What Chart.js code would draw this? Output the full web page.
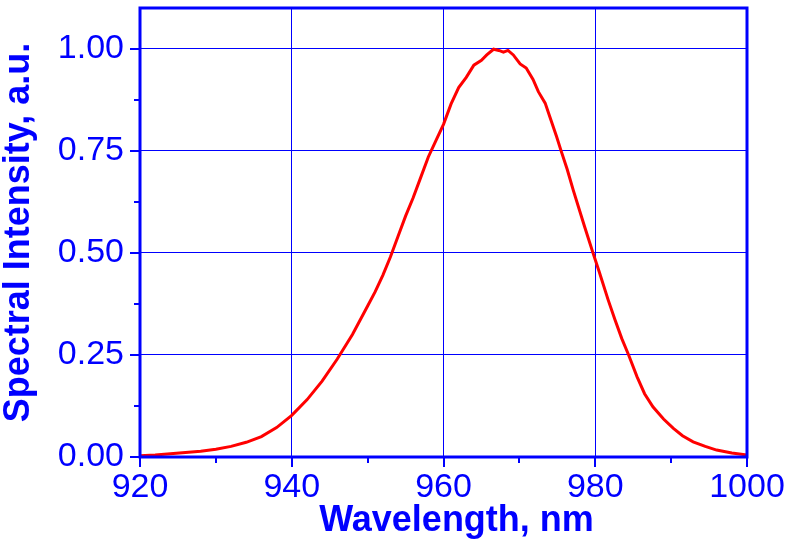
<!DOCTYPE html>
<html>
<head>
<meta charset="utf-8">
<script src="https://cdn.jsdelivr.net/npm/chart.js@4.4.1/dist/chart.umd.min.js"></script>
<style>
  html, body { margin: 0; padding: 0; background: #fff; }
  #wrap { width: 792px; height: 547px; }
</style>
</head>
<body>
<div id="wrap"><canvas id="spectrum"></canvas></div>
<script>
// values
const wavelength = [
  920, 922, 924, 926, 928, 930, 932, 934, 936, 938,
  940, 942, 944, 946, 948, 950, 951, 952, 953, 954,
  955, 956, 957, 958, 959, 960, 961, 962, 963, 964,
  965, 965.7, 966.6, 967.3, 967.9, 968.5, 969.2, 970.1, 970.9, 971.8,
  972.5, 973.4, 974.0, 974.9, 975.5, 976.3, 977.1, 978.6, 979.7, 980.5,
  981.7, 982.6, 983.5, 984.4, 985.5, 986.5, 987.6, 989, 990.3, 991.5,
  992.9, 994.5, 996, 998, 1000
]
const intensity = [
  0.003, 0.005, 0.008, 0.011, 0.014, 0.019, 0.026, 0.036, 0.050, 0.072,
  0.102, 0.140, 0.186, 0.240, 0.300, 0.370, 0.405, 0.445, 0.490, 0.540,
  0.590, 0.635, 0.685, 0.735, 0.775, 0.815, 0.865, 0.905, 0.930, 0.960,
  0.972, 0.985, 0.999, 0.996, 0.992, 0.996, 0.985, 0.963, 0.953, 0.925,
  0.895, 0.867, 0.834, 0.785, 0.750, 0.705, 0.654, 0.564, 0.500, 0.455,
  0.385, 0.336, 0.290, 0.250, 0.197, 0.155, 0.123, 0.093, 0.070, 0.052,
  0.037, 0.026, 0.017, 0.010, 0.005
]
const xTicks = [920, 940, 960, 980, 1000]
const xMinorTicks = [930, 950, 970, 990]
const yTicks = [0, 0.25, 0.5, 0.75, 1.0]
const yMinorTicks = [0.125, 0.375, 0.625, 0.875]
const xTitle = 'Wavelength, nm'
const yTitle = 'Spectral Intensity, a.u.'

const blue = '#0000ff'
const fontFamily = '"Liberation Sans", Arial, sans-serif'

// frame, tick marks and the x title
const framePlugin = {
  id: 'frame',
  afterDraw(chart) {
    const { ctx, chartArea: a, scales: { x, y } } = chart
    ctx.save()
    ctx.strokeStyle = blue
    ctx.lineWidth = 2
    ctx.beginPath()
    xTicks.forEach(v => {
      const px = Math.round(x.getPixelForValue(v))
      ctx.moveTo(px, a.bottom); ctx.lineTo(px, a.bottom + 10)
    })
    xMinorTicks.forEach(v => {
      const px = Math.round(x.getPixelForValue(v))
      ctx.moveTo(px, a.bottom); ctx.lineTo(px, a.bottom + 6)
    })
    yTicks.forEach(v => {
      const py = Math.round(y.getPixelForValue(v))
      ctx.moveTo(a.left, py); ctx.lineTo(a.left - 10, py)
    })
    yMinorTicks.forEach(v => {
      const py = Math.round(y.getPixelForValue(v))
      ctx.moveTo(a.left, py); ctx.lineTo(a.left - 6, py)
    })
    ctx.stroke()
    ctx.lineWidth = 3
    ctx.strokeRect(a.left, a.top, a.right - a.left, a.bottom - a.top)

    ctx.fillStyle = blue
    ctx.font = 'bold 36px ' + fontFamily
    ctx.textAlign = 'center'
    ctx.textBaseline = 'alphabetic'
    ctx.fillText(xTitle, (a.left + a.right) / 2 + 13, 531)
    ctx.restore()
  }
}

const ctx = document.getElementById('spectrum')
new Chart(ctx, {
  type: 'scatter',
  data: {
    datasets: [{
      data: wavelength.map((w, i) => ({ x: w, y: intensity[i] })),
      showLine: true,
      borderColor: '#ff0000',
      borderWidth: 3,
      pointRadius: 0,
      tension: 0
    }]
  },
  options: {
    responsive: true,
    maintainAspectRatio: false,
    animation: false,
    layout: { padding: { top: 8, right: 45, left: 0, bottom: 0 } },
    plugins: {
      legend: { display: false },
      tooltip: { enabled: false }
    },
    scales: {
      x: {
        type: 'linear',
        min: 920,
        max: 1000,
        afterBuildTicks: s => { s.ticks = xTicks.map(v => ({ value: v })) },
        afterFit: s => { s.height = 90; s.paddingLeft = 0; s.paddingRight = 0 },
        border: { display: false },
        grid: { color: blue, lineWidth: 1, drawTicks: false },
        ticks: {
          color: blue,
          padding: 10,
          maxRotation: 0,
          font: { family: fontFamily, size: 34 },
          callback: v => v
        }
      },
      y: {
        min: 0,
        max: 1.1,
        afterBuildTicks: s => { s.ticks = yTicks.map(v => ({ value: v })) },
        afterFit: s => { s.width = 140; s.paddingTop = 0; s.paddingBottom = 0 },
        border: { display: false },
        grid: { color: blue, lineWidth: 1, drawTicks: false },
        ticks: {
          color: blue,
          padding: 16,
          font: { family: fontFamily, size: 34 },
          callback: v => v.toFixed(2)
        },
        title: {
          display: true,
          text: yTitle,
          color: blue,
          padding: { top: 1, bottom: 0 },
          font: { family: fontFamily, size: 36, weight: 'bold', lineHeight: 1 }
        }
      }
    }
  },
  plugins: [framePlugin]
})
</script>
</body>
</html>
